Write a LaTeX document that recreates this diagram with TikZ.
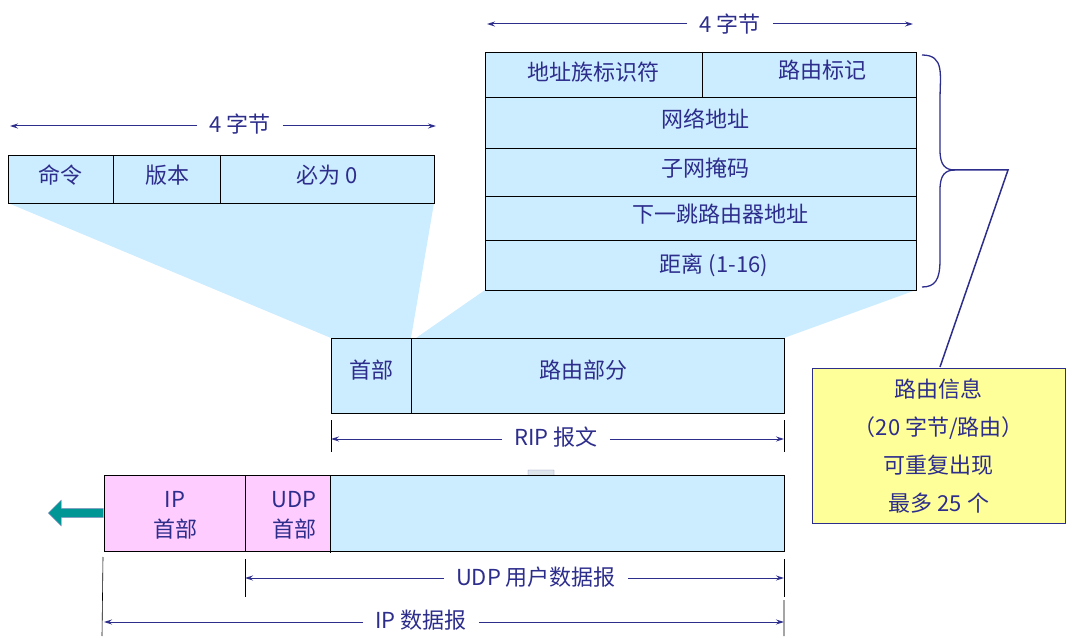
\documentclass[tikz,border=0pt]{standalone}
\usepackage{fontspec}
\setmainfont{Noto Sans CJK SC}
\usetikzlibrary{arrows.meta,shapes.arrows,decorations.pathreplacing}
\definecolor{tb}{RGB}{45,45,140}
\definecolor{lb}{RGB}{204,236,255}
\definecolor{pk}{RGB}{255,204,255}
\definecolor{yl}{RGB}{255,255,153}
\definecolor{tl}{RGB}{0,150,150}
\begin{document}
\begin{tikzpicture}[x=1pt,y=-1pt,
  txt/.style={text=tb,font=\fontsize{22}{26}\selectfont,inner sep=0pt},
  cell/.style={draw=black,line width=0.8pt},
  dim/.style={draw=tb,line width=1pt,-{Stealth[length=8pt,width=5pt]}},
  tick/.style={draw=black,line width=0.6pt}]
\useasboundingbox (0,0) rectangle (1072,639);
% fans
\fill[lb] (8,203) -- (434,203) -- (411,338) -- (331,338) -- cycle;
\fill[lb] (485,290) -- (916,290) -- (784,338) -- (416,338) -- cycle;
% left header
\filldraw[cell,fill=lb] (8,155) rectangle (434,203);
\draw[cell] (113,155) -- (113,203) (220,155) -- (220,203);
\node[txt] (cmd) at (60,175) {命令};
\node[txt] (ver) at (167,175) {版本};
\node[txt] (zero) at (327,175) {必为 0};
\node[txt] (lb4) at (240,124) {4 字节};
\coordinate (la) at (10,126); \coordinate (lc) at (436,126);
\draw[dim] (lb4.west) ++(-12,2) -- (la);
\draw[dim] (lb4.east) ++(12,2) -- (lc);
% right entry
\filldraw[cell,fill=lb] (485,52) rectangle (916,290);
\draw[cell] (485,97) -- (916,97) (485,148) -- (916,148) (485,196) -- (916,196) (485,240) -- (916,240) (702,52) -- (702,97);
\node[txt] (af) at (593,72) {地址族标识符};
\node[txt] (rt) at (822,70) {路由标记};
\node[txt] (na) at (705,119) {网络地址};
\node[txt] (sm) at (705,168) {子网掩码};
\node[txt] (nh) at (720,214) {下一跳路由器地址};
\node[txt] (ds) at (714,265) {距离 (1-16)};
\node[txt] (rb4) at (730,24) {4 字节};
\coordinate (ra) at (487,24); \coordinate (rc) at (913,24);
\draw[dim] (rb4.west) ++(-12,0) -- (ra);
\draw[dim] (rb4.east) ++(12,0) -- (rc);
% brace
\draw[tb,line width=1.3pt] (922,55) .. controls (945,55) and (940,75) .. (940,100) -- (940,150) .. controls (940,165) and (945,170) .. (955,170)
  .. controls (945,170) and (940,175) .. (940,190) -- (940,260) .. controls (940,280) and (935,287) .. (922,287);
\coordinate (bt) at (950,170);
\draw[tb,line width=1.5pt] (bt) -- (1008,170) -- (940,367);
% yellow box
\node[draw=tb,fill=yl,line width=0.8pt,minimum width=253pt,minimum height=155pt,anchor=north west,inner sep=0pt] (yb) at (812,368) {};
\node[txt,align=center,font=\fontsize{22}{38}\selectfont] at (yb.center) {路由信息\\（20 字节/路由）\\可重复出现\\最多 25 个};
% RIP box
\filldraw[cell,fill=lb] (331,338) rectangle (784,413);
\draw[cell] (411,338) -- (411,413);
\node[txt] (hd) at (371,370) {首部};
\node[txt] (rp) at (583,370) {路由部分};
\node[txt] (rip) at (556,437) {RIP 报文};
\draw[tick] (331,420) -- (331,452) (784,420) -- (784,452);
\coordinate (r1) at (331,439); \coordinate (r2) at (784,439);
\draw[dim] (rip.west) ++(-12,2) -- (r1);
\draw[dim] (rip.east) ++(12,2) -- (r2);
% down arrow
\node[single arrow,draw=tb!60,fill=lb!60!gray!40,shape border rotate=270,minimum height=55pt,minimum width=26pt,single arrow head extend=0pt,single arrow tip angle=90,inner sep=3pt] (da) at (541,491) {};
% bottom box
\fill[lb] (330,475) rectangle (784,551);
\fill[pk] (104,475) rectangle (330,551);
\draw[cell] (104,475) rectangle (784,551) (245,475) -- (245,551) (330,475) -- (330,553);
\node[txt,align=center,font=\fontsize{22}{30}\selectfont] (iph) at (175,515) {IP\\首部};
\node[txt,align=center,font=\fontsize{22}{30}\selectfont] (udh) at (294,515) {UDP\\首部};
\node[single arrow,fill=tl,draw=tb!50,shape border rotate=180,minimum height=55pt,minimum width=26pt,single arrow head extend=4pt,inner sep=2pt,anchor=tip] (ta) at (48,513) {};
% UDP dim
\draw[tick] (245,559) -- (245,597) (784,559) -- (784,597);
\node[txt] (udp) at (536,577) {UDP 用户数据报};
\coordinate (u1) at (245,578); \coordinate (u2) at (784,578);
\draw[dim] (udp.west) ++(-12,1) -- (u1);
\draw[dim] (udp.east) ++(12,1) -- (u2);
% IP dim
\draw[tick] (103,557) -- (102,636) (784,600) -- (784,636);
\node[txt] (ip) at (421,620) {IP 数据报};
\coordinate (i1) at (104,622); \coordinate (i2) at (784,622);
\draw[dim] (ip.west) ++(-12,2) -- (i1);
\draw[dim] (ip.east) ++(12,2) -- (i2);
\end{tikzpicture}
\end{document}
